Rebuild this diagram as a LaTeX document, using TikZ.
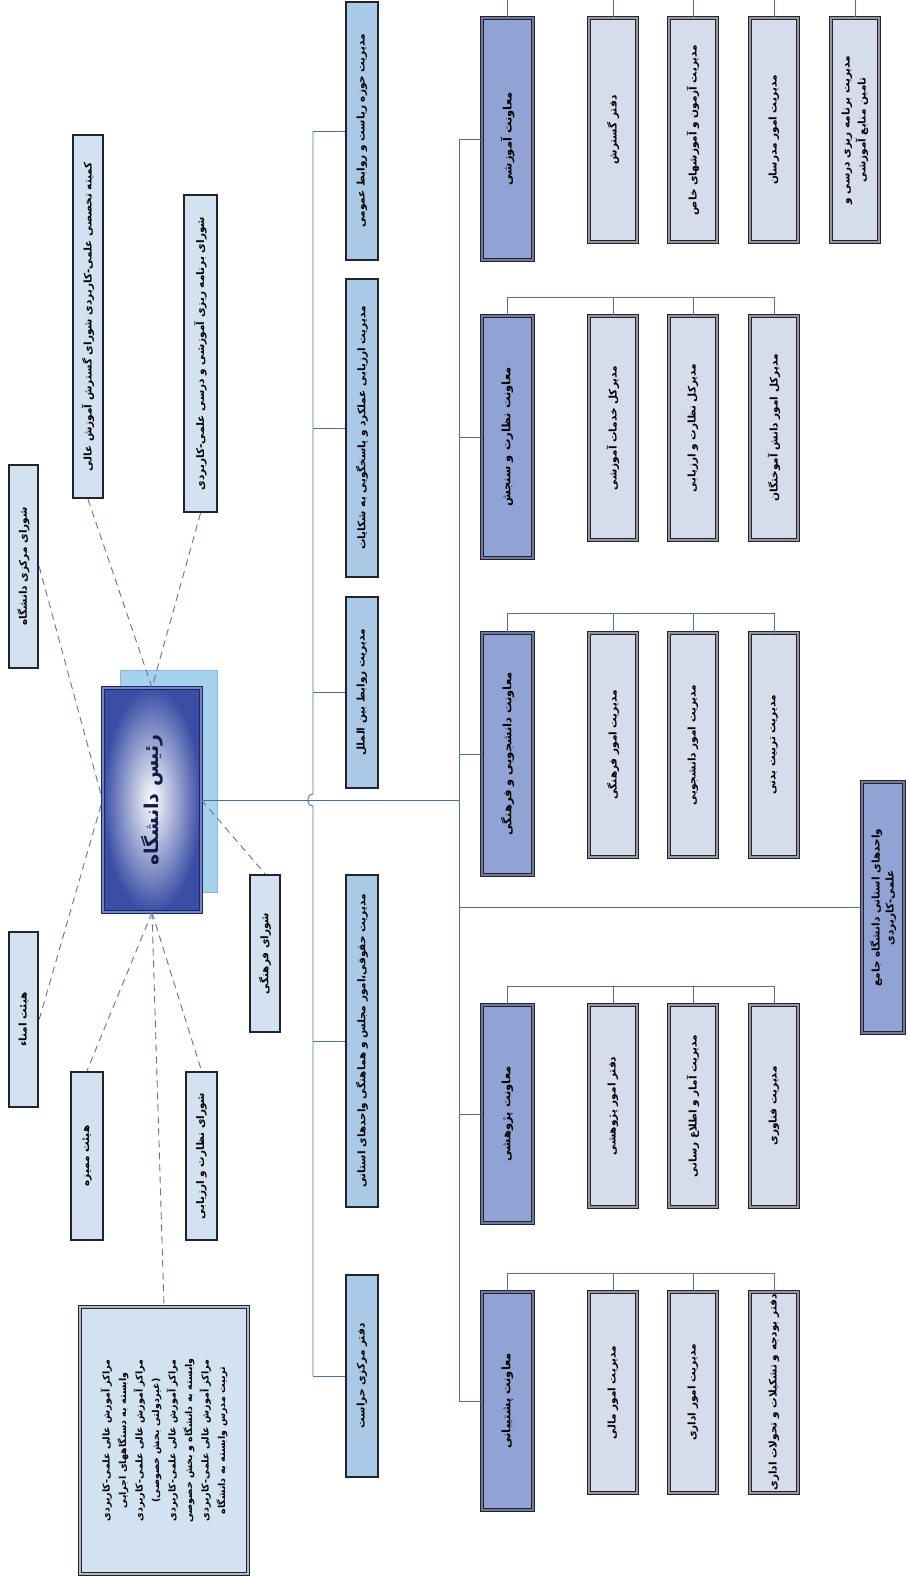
\documentclass[tikz,border=0pt]{standalone}
\usepackage{fontspec}
\newfontfamily\fafont[Script=Arabic]{DejaVu Sans}
\TeXXeTstate=1
\newcommand{\fa}[1]{\beginR #1\endR}
\usetikzlibrary{positioning,calc}
\definecolor{linkblue}{RGB}{80,110,170}
\definecolor{dashblue}{RGB}{95,115,165}
\definecolor{boxedge}{RGB}{35,35,40}
\definecolor{councilfill}{RGB}{210,226,240}
\definecolor{stafffill}{RGB}{170,201,230}
\definecolor{vpfill}{RGB}{145,163,212}
\definecolor{vpinner}{RGB}{110,120,160}
\definecolor{unitfill}{RGB}{214,220,236}
\definecolor{unitinner}{RGB}{150,150,160}
\definecolor{presblue}{RGB}{58,78,165}
\definecolor{presedge}{RGB}{28,38,100}
\definecolor{shadowfill}{RGB}{166,210,236}

\begin{document}
\begin{tikzpicture}[x=1pt, y=-1pt,
    box/.style={draw=boxedge, line width=2.4pt, rotate=90, inner sep=2pt, align=center,
        font=\fafont\bfseries\fontsize{10.5}{16}\selectfont},
    council/.style={box, fill=councilfill},
    staff/.style={box, fill=stafffill},
    vp/.style={box, fill=vpfill, line width=1pt, double=vpinner, double distance=1.2pt,
        font=\fafont\bfseries\fontsize{11.5}{14}\selectfont},
    unit/.style={box, fill=unitfill, line width=1pt, double=unitinner, double distance=1.4pt},
    president/.style={box, inner color=white, outer color=presblue, draw=presedge,
        line width=1pt, double=presblue!70, double distance=1.2pt,
        font=\fafont\bfseries\fontsize{19}{22}\selectfont, text=presedge!70!black},
    link/.style={draw=linkblue, line width=0.9pt},
    dashlink/.style={draw=dashblue, line width=0.9pt, dash pattern=on 7pt off 5pt}
]
\useasboundingbox[fill=white] (0,0) rectangle (908,1578);

% President
\node[fill=shadowfill, draw=shadowfill!85!blue, line width=0.8pt, minimum width=97, minimum height=222] (presShadow) at (168.5,781.5) {};
\node[president, minimum width=224, minimum height=98] (pres) at (152,800) {\fa{رئیس دانشگاه}};

% Councils
\node[council, minimum width=363, minimum height=30] (cKomite) at (88,316.5) {\fa{کمیته تخصصی علمی-کاربردی شورای گسترش آموزش عالی}};
\node[council, minimum width=317, minimum height=33] (cBarname) at (200.5,353.5) {\fa{شورای برنامه ریزی آموزشی و درسی علمی-کاربردی}};
\node[council, minimum width=203, minimum height=29] (cMarkazi) at (23.5,566.5) {\fa{شورای مرکزی دانشگاه}};
\node[council, minimum width=175, minimum height=29] (cOmana) at (23.5,1019.5) {\fa{هیئت امناء}};
\node[council, minimum width=157, minimum height=30] (cFarhangi) at (265,953.5) {\fa{شورای فرهنگی}};
\node[council, minimum width=168, minimum height=32] (cMomayeze) at (87,1156) {\fa{هیئت ممیزه}};
\node[council, minimum width=168, minimum height=31] (cNezarat) at (201.5,1156) {\fa{شورای نظارت و ارزیابی}};
\node[council, line width=1pt, double=councilfill!60!gray, double distance=1.2pt, minimum width=267, minimum height=168,
    font=\fafont\bfseries\fontsize{9.5}{16.5}\selectfont] (cMarakez) at (164,1440.5)
    {\fa{مراکز آموزش عالی علمی-کاربردی}\\\fa{وابسته به دستگاههای اجرایی}\\\fa{مراکز آموزش عالی علمی-کاربردی}\\\fa{(غیردولتی بخش خصوصی)}\\
     \fa{مراکز آموزش عالی علمی-کاربردی}\\\fa{وابسته به دانشگاه و بخش خصوصی}\\\fa{مراکز آموزش عالی علمی-کاربردی}\\\fa{تربیت مدرس وابسته به دانشگاه}};

% Staff offices
\node[staff, minimum width=258, minimum height=32] (mRiasat) at (362,131) {\fa{مدیریت حوزه ریاست و روابط عمومی}};
\node[staff, minimum width=298, minimum height=32] (mArzyabi) at (362,428) {\fa{مدیریت ارزیابی عملکرد و پاسخگویی به شکایات}};
\node[staff, minimum width=191, minimum height=32] (mBeinolmelal) at (362,692.5) {\fa{مدیریت روابط بین الملل}};
\node[staff, minimum width=332, minimum height=32] (mHoghoghi) at (362,1041) {\fa{مدیریت حقوقی،امور مجلس و هماهنگی واحدهای استانی}};
\node[staff, minimum width=202, minimum height=32] (mHerasat) at (362,1376) {\fa{دفتر مرکزی حراست}};

% Vice presidents
\node[vp, minimum width=242, minimum height=51] (vAmoozeshi) at (507.5,139) {\fa{معاونت آموزشی}};
\node[vp, minimum width=242, minimum height=51] (vNezarat) at (507.5,437) {\fa{معاونت نظارت و سنجش}};
\node[vp, minimum width=242, minimum height=51] (vDaneshjooyi) at (507.5,754) {\fa{معاونت دانشجویی و فرهنگی}};
\node[vp, minimum width=218, minimum height=51] (vPajooheshi) at (507.5,1114) {\fa{معاونت پژوهشی}};
\node[vp, minimum width=218, minimum height=51] (vPoshtibani) at (507.5,1401) {\fa{معاونت پشتیبانی}};
\node[vp, minimum width=251, minimum height=42, font=\fafont\bfseries\fontsize{10.5}{14}\selectfont] (vOstani) at (883,907.5) {\fa{واحدهای استانی دانشگاه جامع}\\\fa{علمی-کاربردی}};

% Units of each vice president
\node[unit, minimum width=224, minimum height=48] (sA1) at (613,130) {\fa{دفتر گسترش}};
\node[unit, minimum width=224, minimum height=48] (sA2) at (693,130) {\fa{مدیریت آزمون و آموزشهای خاص}};
\node[unit, minimum width=224, minimum height=48] (sA3) at (774,130) {\fa{مدیریت امور مدرسان}};
\node[unit, minimum width=224, minimum height=48] (sA4) at (855,130) {\fa{مدیریت برنامه ریزی درسی و}\\\fa{تامین منابع آموزشی}};

\node[unit, minimum width=224, minimum height=48] (sB1) at (613,428) {\fa{مدیرکل خدمات آموزشی}};
\node[unit, minimum width=224, minimum height=48] (sB2) at (693,428) {\fa{مدیرکل نظارت و ارزیابی}};
\node[unit, minimum width=224, minimum height=48] (sB3) at (774,428) {\fa{مدیرکل امور دانش آموختگان}};

\node[unit, minimum width=224, minimum height=48] (sC1) at (613,745) {\fa{مدیریت امور فرهنگی}};
\node[unit, minimum width=224, minimum height=48] (sC2) at (693,745) {\fa{مدیریت امور دانشجویی}};
\node[unit, minimum width=224, minimum height=48] (sC3) at (774,745) {\fa{مدیریت تربیت بدنی}};

\node[unit, minimum width=202, minimum height=48] (sD1) at (613,1106) {\fa{دفتر امور پژوهشی}};
\node[unit, minimum width=202, minimum height=48] (sD2) at (693,1106) {\fa{مدیریت آمار و اطلاع رسانی}};
\node[unit, minimum width=202, minimum height=48] (sD3) at (774,1106) {\fa{مدیریت فناوری}};

\node[unit, minimum width=201, minimum height=48] (sE1) at (613,1392.5) {\fa{مدیریت امور مالی}};
\node[unit, minimum width=201, minimum height=48] (sE2) at (693,1392.5) {\fa{مدیریت امور اداری}};
\node[unit, minimum width=201, minimum height=48] (sE3) at (774,1392.5) {\fa{دفتر بودجه و تشکیلات و تحولات اداری}};

% Bus lines
\coordinate (stafftop) at (313,131);
\coordinate (staffbot) at (313,1376);
\coordinate (vptop) at (459,139);
\coordinate (vpbot) at (459,1401);

\draw[link] (stafftop) -- (313,794) .. controls (306,794) and (306,806) .. (313,806) -- (staffbot);
\draw[link] (pres.south) -- (pres.south -| vptop);
\draw[link] (vptop) -- (vpbot);

\foreach \m in {mRiasat,mArzyabi,mBeinolmelal,mHoghoghi,mHerasat}
    \draw[link] (\m.north) -- (\m.north -| stafftop);
\foreach \v in {vAmoozeshi,vNezarat,vDaneshjooyi,vPajooheshi,vPoshtibani,vOstani}
    \draw[link] (\v.north) -- (\v.north -| vptop);

\foreach \s in {sA1,sA2,sA3,sA4}
    \draw[link] (vAmoozeshi.east) -- ++(0,-21) -| (\s.east);
\foreach \s in {sB1,sB2,sB3}
    \draw[link] (vNezarat.east) -- ++(0,-18) -| (\s.east);
\foreach \s in {sC1,sC2,sC3}
    \draw[link] (vDaneshjooyi.east) -- ++(0,-19) -| (\s.east);
\foreach \s in {sD1,sD2,sD3}
    \draw[link] (vPajooheshi.east) -- ++(0,-18) -| (\s.east);
\foreach \s in {sE1,sE2,sE3}
    \draw[link] (vPoshtibani.east) -- ++(0,-18) -| (\s.east);

% Dashed links to councils
\draw[dashlink] (cKomite.west) -- (pres.east);
\draw[dashlink] (cBarname.west) -- (pres.east);
\draw[dashlink] (cMarkazi.south) -- (pres.north);
\draw[dashlink] (cOmana.south) -- (pres.north);
\draw[dashlink] (pres.south) -- (cFarhangi.east);
\draw[dashlink] (pres.west) -- (cMomayeze.east);
\draw[dashlink] (pres.west) -- (cMarakez.east);
\draw[dashlink] (pres.west) -- (cNezarat.east);

\end{tikzpicture}
\end{document}
